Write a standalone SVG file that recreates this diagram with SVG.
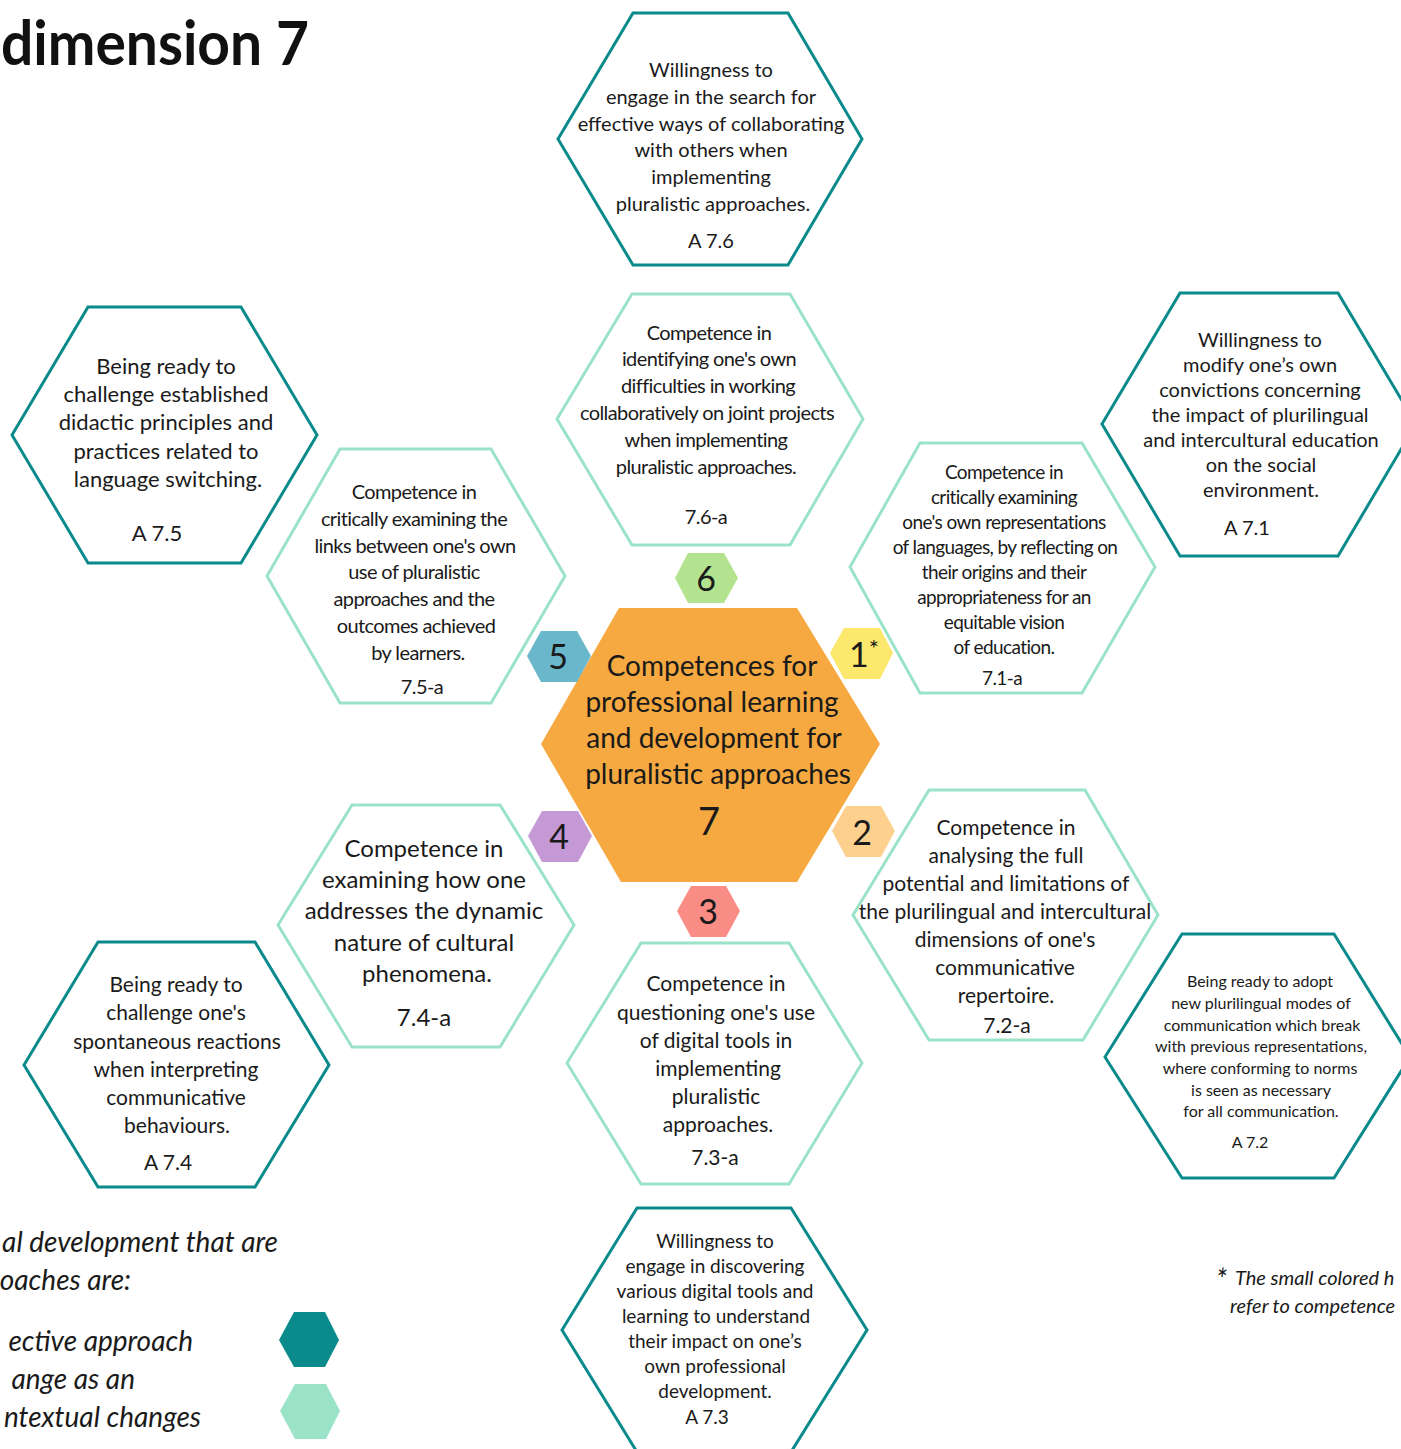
<svg xmlns="http://www.w3.org/2000/svg" width="1401" height="1449" viewBox="0 0 1401 1449">
<style>
.dark{fill:#fff;stroke:#0b8a8c;stroke-width:3}
.light{fill:#fff;stroke:#9be3c8;stroke-width:3}
.t{font-family:Lato,"Liberation Sans",sans-serif;fill:#1a1a1a;text-anchor:middle}
.c{letter-spacing:-0.6px}
.it{font-family:Lato,"Liberation Sans",sans-serif;font-style:italic;fill:#1a1a1a}
.num{font-family:Lato,"Liberation Sans",sans-serif;fill:#1a1a1a;text-anchor:middle;font-size:34px}
</style>
<rect width="1401" height="1449" fill="#fff"/>
<text x="1" y="65" textLength="308" lengthAdjust="spacingAndGlyphs" font-family="Lato,'Liberation Sans',sans-serif" font-weight="bold" font-size="62" fill="#111">dimension 7</text>
<g id="connectors"/>

<g id="A7.6">
<polygon class="dark" points="558,139 633,13 788,13 862,139 788,265 633,265"/>
<text class="t" font-size="20"><tspan x="711" y="77">Willingness to</tspan><tspan x="711" y="104">engage in the search for</tspan><tspan x="711" y="131">effective ways of collaborating</tspan><tspan x="711" y="157">with others when</tspan><tspan x="711" y="184">implementing</tspan><tspan x="713" y="211">pluralistic approaches.</tspan><tspan x="711" y="248">A 7.6</tspan></text>
</g>

<g id="n7.6-a">
<polygon class="light" points="557,419 632,294 790,294 863,419 790,545 632,545"/>
<text class="t c" font-size="20"><tspan x="709" y="340">Competence in</tspan><tspan x="709" y="366">identifying one's own</tspan><tspan x="708" y="393">difficulties in working</tspan><tspan x="707" y="420">collaboratively on joint projects</tspan><tspan x="706" y="447">when implementing</tspan><tspan x="706" y="474">pluralistic approaches.</tspan><tspan x="706" y="524">7.6-a</tspan></text>
</g>

<g id="A7.5">
<polygon class="dark" points="12,435 88,307 241,307 317,435 241,563 88,563"/>
<text class="t" font-size="22"><tspan x="166" y="374">Being ready to</tspan><tspan x="166" y="402">challenge established</tspan><tspan x="166" y="430">didactic principles and</tspan><tspan x="166" y="459">practices related to</tspan><tspan x="168" y="487">language switching.</tspan><tspan x="157" y="541">A 7.5</tspan></text>
</g>

<g id="n7.5-a">
<polygon class="light" points="267,576 340,449 491,449 565,576 491,703 340,703"/>
<text class="t c" font-size="20"><tspan x="414" y="499">Competence in</tspan><tspan x="414" y="526">critically examining the</tspan><tspan x="415" y="553">links between one's own</tspan><tspan x="414" y="579">use of pluralistic</tspan><tspan x="414" y="606">approaches and the</tspan><tspan x="416" y="633">outcomes achieved</tspan><tspan x="418" y="660">by learners.</tspan><tspan x="422" y="694">7.5-a</tspan></text>
</g>

<g id="A7.1">
<polygon class="dark" points="1102,424 1180,293 1338,293 1416,424 1338,556 1180,556"/>
<text class="t" font-size="20"><tspan x="1260" y="347">Willingness to</tspan><tspan x="1260" y="372">modify one’s own</tspan><tspan x="1260" y="397">convictions concerning</tspan><tspan x="1260" y="422">the impact of plurilingual</tspan><tspan x="1261" y="447">and intercultural education</tspan><tspan x="1261" y="472">on the social</tspan><tspan x="1261" y="497">environment.</tspan><tspan x="1247" y="535">A 7.1</tspan></text>
</g>

<g id="n7.1-a">
<polygon class="light" points="850,567 920,443 1082,443 1155,567 1082,693 920,693"/>
<text class="t c" font-size="19"><tspan x="1004" y="479">Competence in</tspan><tspan x="1004" y="504">critically examining</tspan><tspan x="1004" y="529">one's own representations</tspan><tspan x="1005" y="554">of languages, by reflecting on</tspan><tspan x="1004" y="579">their origins and their</tspan><tspan x="1004" y="604">appropriateness for an</tspan><tspan x="1004" y="629">equitable vision</tspan><tspan x="1004" y="654">of education.</tspan><tspan x="1002" y="685">7.1-a</tspan></text>
</g>

<g id="center">
<polygon fill="#f5a940" points="541,744 619,608 797,608 880,744 797,882 621,882"/>
<text class="t" font-size="28"><tspan x="712" y="676">Competences for</tspan><tspan x="712" y="712">professional learning</tspan><tspan x="714" y="748">and development for</tspan><tspan x="718" y="784">pluralistic approaches</tspan><tspan x="709" y="835" font-size="38">7</tspan></text>
</g>

<g id="n7.2-a">
<polygon class="light" points="853,915 929,790 1085,790 1158,915 1083,1040 929,1040"/>
<text class="t" font-size="21"><tspan x="1006" y="835">Competence in</tspan><tspan x="1006" y="863">analysing the full</tspan><tspan x="1006" y="891">potential and limitations of</tspan><tspan x="1005" y="919">the plurilingual and intercultural</tspan><tspan x="1005" y="947">dimensions of one's</tspan><tspan x="1005" y="975">communicative</tspan><tspan x="1006" y="1003">repertoire.</tspan><tspan x="1007" y="1033">7.2-a</tspan></text>
</g>

<g id="A7.2">
<polygon class="dark" points="1105,1057 1182,934 1334,934 1410,1057 1334,1178 1182,1178"/>
<text class="t" font-size="16"><tspan x="1260" y="987">Being ready to adopt</tspan><tspan x="1261" y="1009">new plurilingual modes of</tspan><tspan x="1262" y="1031">communication which break</tspan><tspan x="1261" y="1052">with previous representations,</tspan><tspan x="1260" y="1074">where conforming to norms</tspan><tspan x="1261" y="1096">is seen as necessary</tspan><tspan x="1261" y="1117">for all communication.</tspan><tspan x="1250" y="1148">A 7.2</tspan></text>
</g>

<g id="n7.4-a">
<polygon class="light" points="278,925 352,805 500,805 574,925 500,1047 352,1047"/>
<text class="t" font-size="24"><tspan x="424" y="857">Competence in</tspan><tspan x="424" y="888">examining how one</tspan><tspan x="424" y="919">addresses the dynamic</tspan><tspan x="424" y="951">nature of cultural</tspan><tspan x="427" y="982">phenomena.</tspan><tspan x="424" y="1026">7.4-a</tspan></text>
</g>

<g id="A7.4">
<polygon class="dark" points="24,1065 98,942 255,942 329,1065 255,1187 98,1187"/>
<text class="t" font-size="21"><tspan x="176" y="992">Being ready to</tspan><tspan x="176" y="1020">challenge one's</tspan><tspan x="177" y="1049">spontaneous reactions</tspan><tspan x="176" y="1077">when interpreting</tspan><tspan x="176" y="1105">communicative</tspan><tspan x="177" y="1133">behaviours.</tspan><tspan x="168" y="1170">A 7.4</tspan></text>
</g>

<g id="n7.3-a">
<polygon class="light" points="567,1063 641,943 789,943 862,1063 789,1184 641,1184"/>
<text class="t" font-size="21"><tspan x="716" y="991">Competence in</tspan><tspan x="716" y="1020">questioning one's use</tspan><tspan x="716" y="1048">of digital tools in</tspan><tspan x="718" y="1076">implementing</tspan><tspan x="716" y="1104">pluralistic</tspan><tspan x="718" y="1132">approaches.</tspan><tspan x="715" y="1165">7.3-a</tspan></text>
</g>

<g id="A7.3">
<polygon class="dark" points="562,1330 637,1208 791,1208 867,1330 791,1452 637,1452"/>
<text class="t" font-size="19"><tspan x="715" y="1248">Willingness to</tspan><tspan x="715" y="1273">engage in discovering</tspan><tspan x="715" y="1298">various digital tools and</tspan><tspan x="716" y="1323">learning to understand</tspan><tspan x="715" y="1348">their impact on one’s</tspan><tspan x="715" y="1373">own professional</tspan><tspan x="715" y="1398">development.</tspan><tspan x="707" y="1424">A 7.3</tspan></text>
</g>

<g id="badge6"><polygon fill="#b3e38f" points="675,578 688,553 724,553 738,578 724,603 688,603"/><text class="num" x="706" y="591">6</text></g>
<g id="badge5"><polygon fill="#6ab7cb" points="527,656 541,631 577,631 591,656 577,682 541,682"/><text class="num" x="558" y="669">5</text></g>
<g id="badge1"><polygon fill="#fde86e" points="830,653 844,628 880,628 893,653 880,679 844,679"/><text class="num" x="864" y="667">1<tspan font-size="24" dy="-10">*</tspan></text></g>
<g id="badge4"><polygon fill="#c598d6" points="528,836 542,811 578,811 592,836 578,862 542,862"/><text class="num" x="559" y="849">4</text></g>
<g id="badge2"><polygon fill="#fdd08e" points="832,831 846,806 881,806 895,831 881,857 846,857"/><text class="num" x="862" y="845">2</text></g>
<g id="badge3"><polygon fill="#f98c84" points="677,911 691,886 726,886 740,911 726,937 691,937"/><text class="num" x="708" y="924">3</text></g>

<g id="legend">
<text class="it" font-size="28" text-anchor="end"><tspan x="278" y="1252">al development that are</tspan><tspan x="131" y="1290">oaches are:</tspan><tspan x="193" y="1351">ective approach</tspan><tspan x="135" y="1389">ange as an</tspan><tspan x="201" y="1427">ntextual changes</tspan></text>
<polygon fill="#0b8a8c" points="279,1340 294,1312 325,1312 339,1340 325,1367 294,1367"/>
<polygon fill="#9be3c8" points="280,1411 295,1384 326,1384 340,1411 326,1439 295,1439"/>
</g>

<g id="footnote">
<text class="it" font-size="28" x="1216" y="1290">*</text>
<text class="it" font-size="20"><tspan x="1235" y="1285">The small colored h</tspan><tspan x="1230" y="1313">refer to competence</tspan></text>
</g>
</svg>
